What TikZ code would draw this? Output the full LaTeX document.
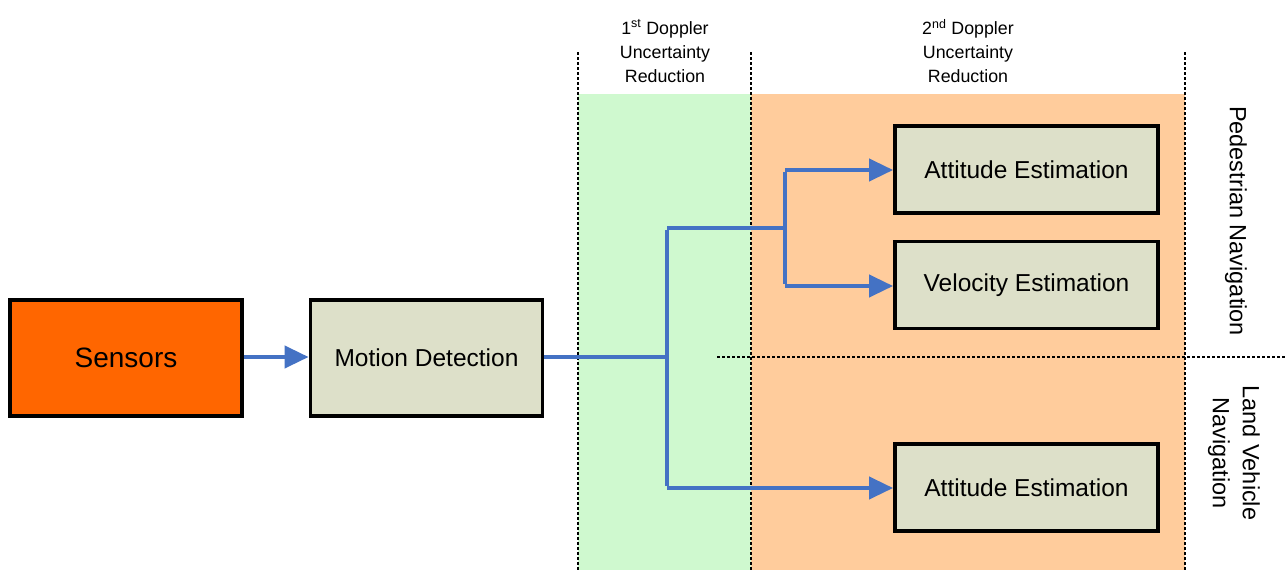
\documentclass[tikz,border=0pt]{standalone}
\usepackage{fontspec}
\setmainfont{Liberation Sans}
\usetikzlibrary{arrows.meta}
\definecolor{sensorfill}{HTML}{FF6600}
\definecolor{boxfill}{HTML}{DDE0C9}
\definecolor{greenzone}{HTML}{CFF9CF}
\definecolor{orangezone}{HTML}{FFCC9C}
\definecolor{flow}{HTML}{4472C4}
\tikzset{
  blockbox/.style={draw=black, line width=3.8pt, fill=boxfill, minimum width=263pt, minimum height=87pt, font=\fontsize{24.5}{28}\selectfont, inner sep=0pt},
  bigbox/.style={blockbox, minimum width=232pt, minimum height=116pt},
  flowline/.style={draw=flow, line width=4pt},
  flowarrow/.style={flowline, -{Triangle[length=24pt, width=22pt]}},
  divider/.style={black, line width=2.6pt, dash pattern=on 3pt off 2pt},
  header/.style={align=center, font=\fontsize{17.8}{24}\selectfont, inner sep=0pt},
  sidelabel/.style={align=center, font=\fontsize{23.5}{30}\selectfont, inner sep=0pt, rotate=-90}
}
\begin{document}
\begin{tikzpicture}[x=1pt, y=-1pt]
\useasboundingbox (0,0) rectangle (1286,570);
% zones
\fill[greenzone] (578,94) rectangle (751,570);
\fill[orangezone] (751,94) rectangle (1185,570);
% dividers
\draw[divider] (578,52) -- (578,570);
\draw[divider] (751,52) -- (751,570);
\draw[divider] (1185,52) -- (1185,570);
\draw[divider] (717,357) -- (1286,357);
% headers
\node[header] (h1) at (665,51) {1\textsuperscript{st} Doppler\\Uncertainty\\Reduction};
\node[header] (h2) at (968,51) {2\textsuperscript{nd} Doppler\\Uncertainty\\Reduction};
% side labels
\node[sidelabel] (ped) at (1236,221) {Pedestrian Navigation};
\node[sidelabel] (land) at (1234,453) {Land Vehicle\\Navigation};
% boxes
\node[bigbox, fill=sensorfill, font=\fontsize{28}{32}\selectfont] (sensors) at (126,358) {Sensors};
\node[bigbox] (motion) at (426.5,358) {Motion Detection};
\node[blockbox] (att1) at (1026.5,169.5) {Attitude Estimation};
\node[blockbox] (vel) at (1026.5,285) {Velocity Estimation};
\node[blockbox] (att2) at (1026.5,487.5) {Attitude Estimation};
% junctions
\coordinate (j1) at (667,357);
\coordinate (j1top) at (667,228);
\coordinate (j1bot) at (667,488);
\coordinate (j2) at (785,228);
\coordinate (j2top) at (785,170);
\coordinate (j2bot) at (785,286);
% connectors
\draw[flowarrow] (sensors.east |- 0,357) -- (motion.west |- 0,357);
\draw[flowline] (motion.east |- j1) -- (j1);
\draw[flowline] ([yshift=-2pt]j1top) -- ([yshift=2pt]j1bot);
\draw[flowline] (j1top) -- ([xshift=2pt]j2);
\draw[flowline] ([yshift=-2pt]j2top) -- ([yshift=2pt]j2bot);
\draw[flowarrow] (j2top) -- (att1.west |- j2top);
\draw[flowarrow] (j2bot) -- (vel.west |- j2bot);
\draw[flowarrow] (j1bot) -- (att2.west |- j1bot);
\end{tikzpicture}
\end{document}
